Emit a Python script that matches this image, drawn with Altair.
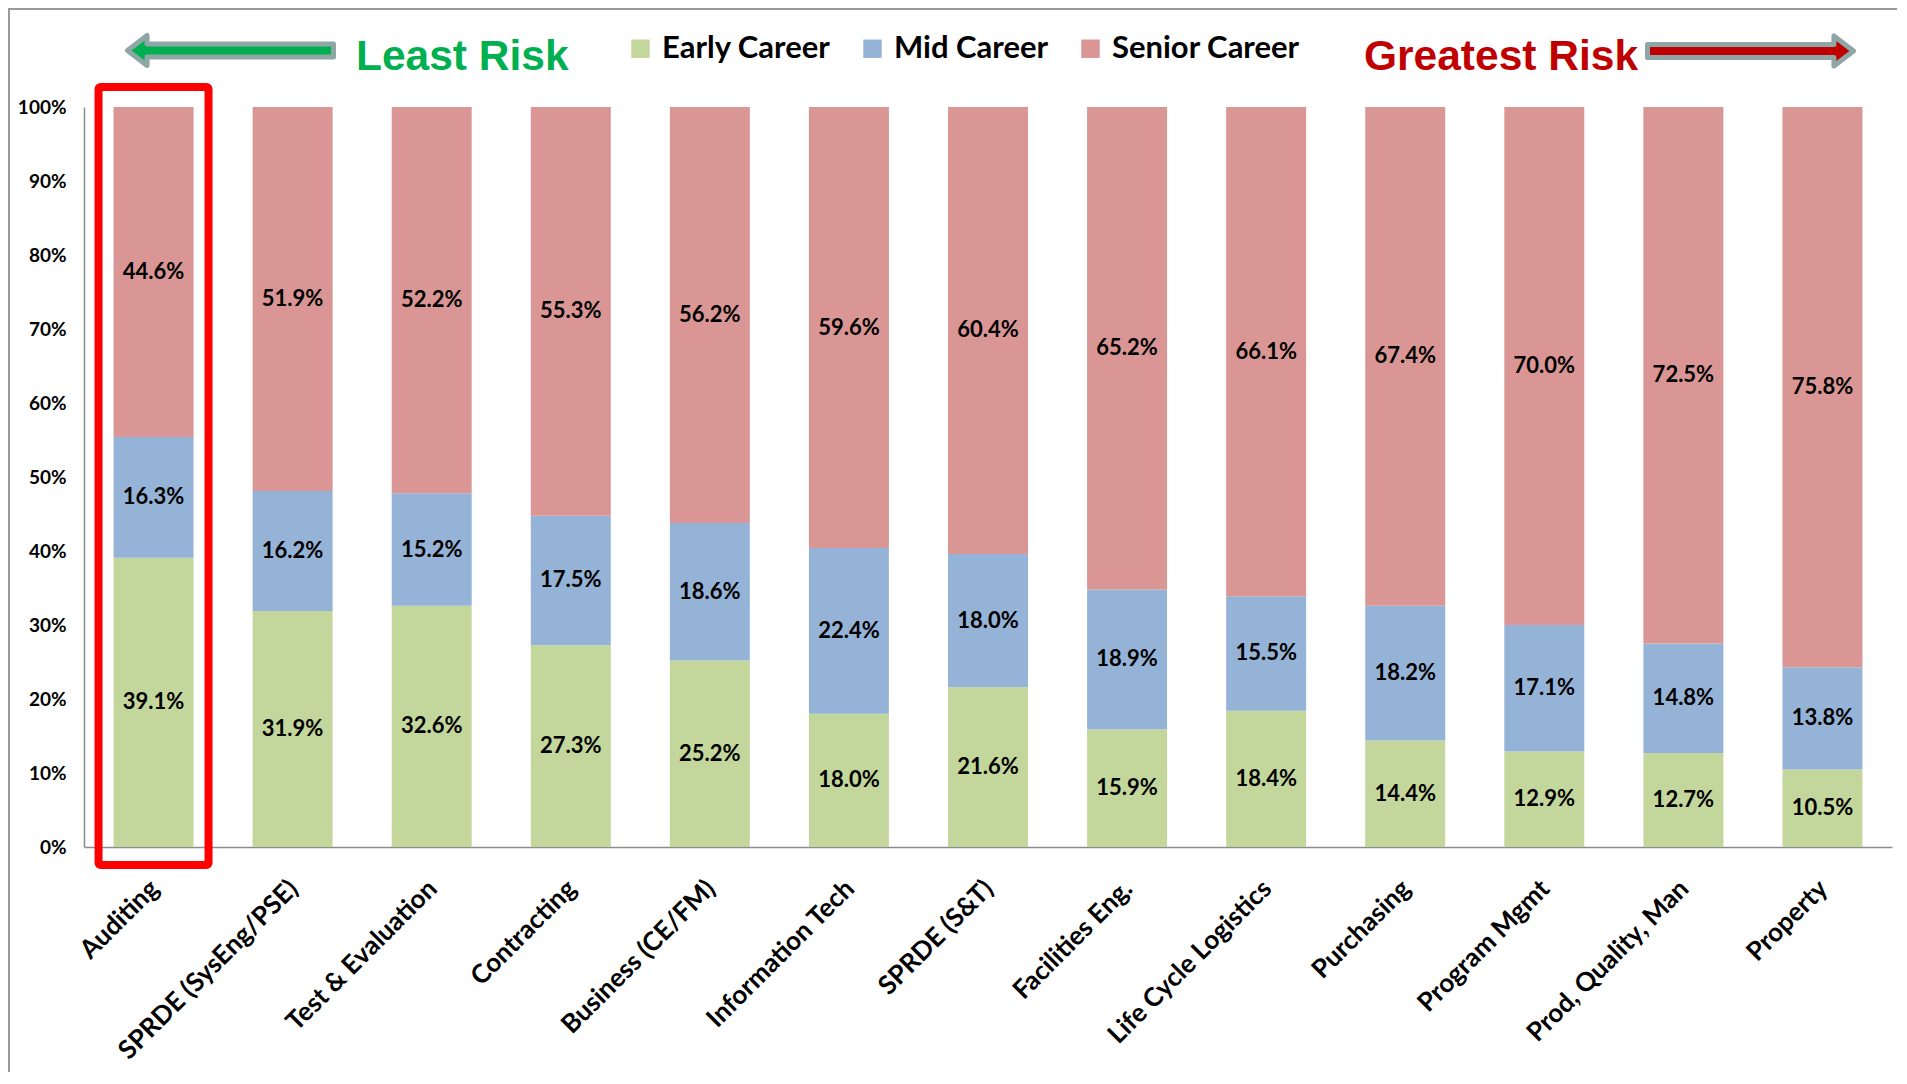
import altair as alt
import pandas as pd

categories = ["Auditing", "SPRDE (SysEng/PSE)", "Test & Evaluation", "Contracting",
              "Business (CE/FM)", "Information Tech", "SPRDE (S&T)", "Facilities Eng.",
              "Life Cycle Logistics", "Purchasing", "Program Mgmt", "Prod, Quality, Man", "Property"]
early = [39.1, 31.9, 32.6, 27.3, 25.2, 18.0, 21.6, 15.9, 18.4, 14.4, 12.9, 12.7, 10.5]
mid = [16.3, 16.2, 15.2, 17.5, 18.6, 22.4, 18.0, 18.9, 15.5, 18.2, 17.1, 14.8, 13.8]
senior = [44.6, 51.9, 52.2, 55.3, 56.2, 59.6, 60.4, 65.2, 66.1, 67.4, 70.0, 72.5, 75.8]
series = ["Early Career", "Mid Career", "Senior Career"]
colors = ["#C3D69B", "#95B3D7", "#D99694"]
y_ticks = [0.0, 0.1, 0.2, 0.3, 0.4, 0.5, 0.6, 0.7, 0.8, 0.9, 1.0]
highlight = ["Auditing"]

rows = []
for i, cat in enumerate(categories):
    vals = [early[i], mid[i], senior[i]]
    total = sum(vals)
    acc = 0.0
    for s, v in zip(series, vals):
        y0 = acc / total
        acc += v
        y1 = acc / total
        rows.append({"cat": cat, "series": s, "y0": y0, "y1": y1,
                     "mid": (y0 + y1) / 2, "label": f"{v:.1f}%"})
df = pd.DataFrame(rows)

W, H = 1808, 740

x_enc = alt.X("cat:N", sort=categories,
              scale=alt.Scale(paddingInner=0.425, paddingOuter=0.2125),
              axis=alt.Axis(title=None, labelAngle=-45, labelFont="Lato", labelFontWeight="bold",
                            labelFontSize=26, labelColor="black", ticks=False, labelPadding=28,
                            labelOffset=-8,
                            domainColor="#8C8C8C", domainWidth=1.5, labelLimit=500,
                            labelOverlap=False))

bars = alt.Chart(df).mark_bar().encode(
    x=x_enc,
    y=alt.Y("y0:Q", scale=alt.Scale(domain=[0, 1], nice=False),
            axis=alt.Axis(title=None, values=y_ticks, format=".0%", labelFont="Lato",
                          labelFontWeight="bold", labelFontSize=19, labelColor="black",
                          ticks=False, labelPadding=18, domainColor="#8C8C8C",
                          domainWidth=1.5, grid=False)),
    y2="y1",
    color=alt.Color("series:N", scale=alt.Scale(domain=series, range=colors),
                    legend=alt.Legend(orient="none", legendX=541, legendY=-74,
                                      direction="horizontal", title=None,
                                      symbolType="square", symbolSize=340,
                                      symbolStrokeWidth=0, labelFont="Lato",
                                      labelFontWeight="bold", labelFontSize=31,
                                      labelColor="black", columnPadding=26,
                                      labelOffset=6, padding=0, labelLimit=500)),
    order=alt.Order("y0:Q"),
)

labels = alt.Chart(df).mark_text(font="Lato", fontWeight="bold", fontSize=22,
                                 color="black").encode(
    x=alt.X("cat:N", sort=categories),
    y=alt.Y("mid:Q"),
    text="label:N",
)

box = alt.Chart(pd.DataFrame({"cat": highlight})).mark_bar(
    filled=False, stroke="#FF0000", strokeWidth=8, width=110, cornerRadius=2
).encode(x=alt.X("cat:N", sort=categories), y=alt.value(-20), y2=alt.value(758))

one = pd.DataFrame({"k": [0]})
left_arrow = "M-1,0 L-0.81,-0.146 L-0.81,-0.063 L1,-0.063 L1,0.063 L-0.81,0.063 L-0.81,0.146 Z"
right_arrow = "M1,0 L0.81,-0.146 L0.81,-0.063 L-1,-0.063 L-1,0.063 L0.81,0.063 L0.81,0.146 Z"

g_arrow = alt.Chart(one).mark_point(shape=left_arrow, size=206 ** 2, filled=True, fill="#00B050",
                                     stroke="#8FA6A6", strokeWidth=5, strokeJoin="round",
                                     opacity=1).encode(x=alt.value(146.5), y=alt.value(-56.5))
r_arrow = alt.Chart(one).mark_point(shape=right_arrow, size=206 ** 2, filled=True, fill="#C00000",
                                     stroke="#8FA6A6", strokeWidth=5, strokeJoin="round",
                                     opacity=1).encode(x=alt.value(1666.5), y=alt.value(-56))

least = alt.Chart(one).mark_text(text="Least Risk", font="Liberation Sans", fontWeight="bold",
                                 fontSize=42.5, color="#00B050", align="left",
                                 baseline="alphabetic").encode(x=alt.value(272), y=alt.value(-37))
greatest = alt.Chart(one).mark_text(text="Greatest Risk", font="Liberation Sans", fontWeight="bold",
                                    fontSize=42.5, color="#C00000", align="left",
                                    baseline="alphabetic").encode(x=alt.value(1280), y=alt.value(-37))

top_border = alt.Chart(one).mark_rule(color="#999999", strokeWidth=2).encode(
    x=alt.value(-76), x2=alt.value(W + 5), y=alt.value(-98))
left_border = alt.Chart(one).mark_rule(color="#999999", strokeWidth=2).encode(
    x=alt.value(-75), y=alt.value(-98), y2=alt.value(H + 225))

chart = alt.layer(bars, labels, box, g_arrow, r_arrow, least, greatest, top_border, left_border).properties(
    width=W, height=H,
    padding={"left": 76, "top": 99, "right": 5, "bottom": 225},
    autosize=alt.AutoSizeParams(type="none"),
).configure_view(stroke=None)

chart.save("out.html", embed_options={"renderer": "svg", "actions": False})
